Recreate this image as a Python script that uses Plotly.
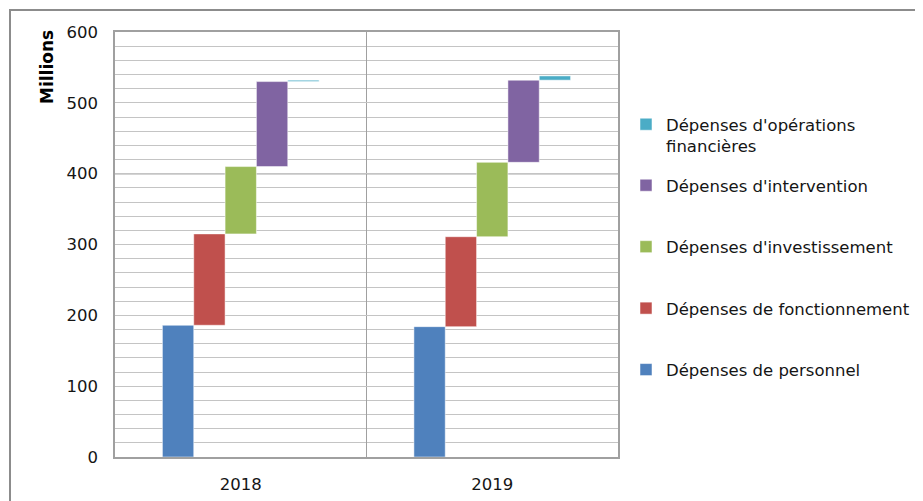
import plotly.graph_objects as go
import numpy as np

years = ["2018", "2019"]
series_names = [
    "Dépenses de personnel",
    "Dépenses de fonctionnement",
    "Dépenses d'investissement",
    "Dépenses d'intervention",
    "Dépenses d'opérations<br>financières",
]
personnel = [186, 184]
fonctionnement = [129, 127]
investissement = [95, 105]
intervention = [120, 116]
operations_financieres = [2, 6]

colors = ["#4F81BD", "#C0504D", "#9BBB59", "#8064A2", "#4BACC6"]
all_values = [personnel, fonctionnement, investissement, intervention, operations_financieres]

FONT = "DejaVu Sans"
TXT = "#151515"

fig = go.Figure()
cum = np.zeros(len(years))
for i, (name, vals, col) in enumerate(zip(series_names, all_values, colors)):
    vals = np.array(vals, dtype=float)
    fig.add_trace(go.Bar(
        x=years, y=vals, base=cum.copy(), name=name,
        marker=dict(color=col, line=dict(color="rgba(255,255,255,0.5)", width=1)),
        legendgroup=name, legendrank=1000 - i,
        legend="legend2" if "financières" in name else "legend",
    ))
    cum = cum + vals

# page offset (browser body margin)
OFF = 8
PAGE_W, PAGE_H = 923, 501
W, H = PAGE_W - OFF, PAGE_H - OFF
# plot area in page pixels: x 115..618, y 32..457
PL, PR, PT, PB = 115, 618, 32, 457
ml = PL - OFF
mt = PT - OFF
mr = W - (PR - OFF)
mb = H - (PB - OFF)
pw = PR - PL
ph = PB - PT

def px_x(p):  # page pixel -> paper x
    return (p - PL) / pw

def px_y(p):  # page pixel -> paper y
    return (PB - p) / ph

fig.update_layout(
    width=W, height=H,
    margin=dict(l=ml, r=mr, t=mt, b=mb, autoexpand=False),
    paper_bgcolor="white", plot_bgcolor="white",
    barmode="group", bargap=0.377, bargroupgap=0,
    font=dict(family=FONT, size=16.5, color=TXT),
    legend=dict(
        x=px_x(626), y=px_y(168), xanchor="left", yanchor="top",
        traceorder="grouped", tracegroupgap=37,
        font=dict(family=FONT, size=16.5, color=TXT),
        bgcolor="rgba(0,0,0,0)",
    ),
    legend2=dict(
        x=px_x(626), y=px_y(107), xanchor="left", yanchor="top",
        valign="top",
        font=dict(family=FONT, size=16.5, color=TXT),
        bgcolor="rgba(0,0,0,0)",
    ),
    showlegend=True,
)

fig.update_yaxes(
    range=[0, 600], dtick=100, tick0=0,
    showgrid=True, gridcolor="#c4c4c4", gridwidth=1,
    minor=dict(dtick=20, showgrid=True, gridcolor="#c4c4c4", gridwidth=1),
    showline=True, linecolor="#a0a0a0", linewidth=1.5, mirror=True,
    ticks="", ticklabelstandoff=12,
    tickfont=dict(family=FONT, size=16.5, color=TXT),
    zeroline=False,
)
fig.update_xaxes(
    type="category", tickson="boundaries",
    showgrid=True, gridcolor="#a0a0a0", gridwidth=1,
    showline=True, linecolor="#a0a0a0", linewidth=1.5, mirror=True,
    ticks="", ticklabelstandoff=11,
    tickfont=dict(family=FONT, size=16.5, color=TXT),
)

# darker major gridline at 400
fig.add_shape(type="line", xref="paper", yref="y", x0=0, x1=1, y0=400, y1=400,
              line=dict(color="#aaaaaa", width=1.5), layer="below")

# y-axis unit title
fig.add_annotation(text="<b>Millions</b>", textangle=-90, xref="paper", yref="paper",
                   x=px_x(47), y=px_y(67), xanchor="center", yanchor="middle",
                   showarrow=False,
                   font=dict(family=FONT, size=17, color="#000"))

# outer chart frame
fig.add_shape(type="rect", xref="paper", yref="paper",
              x0=px_x(10), y0=px_y(10), x1=px_x(PAGE_W + 20), y1=px_y(PAGE_H + 20),
              line=dict(color="#8c8c8c", width=2), fillcolor="rgba(0,0,0,0)")

fig.write_html("out.html")
